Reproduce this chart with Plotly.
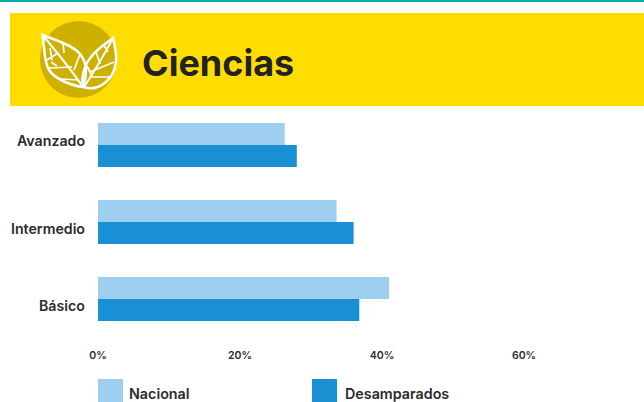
import plotly.graph_objects as go

categories = ["Básico", "Intermedio", "Avanzado"]
nacional = [41.0, 33.6, 26.3]
desamparados = [36.8, 36.0, 28.0]
x_ticks = [0, 20, 40, 60]
x_labels = ["0%", "20%", "40%", "60%"]
series_names = ["Nacional", "Desamparados"]
chart_title = "Ciencias"

W, H = 644, 402
FONT = "Inter"
DARK = "#2b2b2b"
LIGHT_BLUE = "#9fcff0"
BLUE = "#1990d3"

fig = go.Figure()
fig.add_bar(y=categories, x=desamparados, orientation="h", name=series_names[1],
            marker=dict(color=BLUE, line=dict(width=0)))
fig.add_bar(y=categories, x=nacional, orientation="h", name=series_names[0],
            marker=dict(color=LIGHT_BLUE, line=dict(width=0)))
fig.add_scatter(x=[0], y=[0], xaxis="x2", yaxis="y2", mode="markers", marker=dict(opacity=0),
                hoverinfo="skip", showlegend=False)


def rect(x0, y0, x1, y1, color):
    return dict(type="rect", xref="x2", yref="y2", x0=x0, y0=y0, x1=x1, y1=y1,
                fillcolor=color, line=dict(width=0), layer="below")


def stroke(path, width=2.0):
    return dict(type="path", xref="x2", yref="y2", path=path, layer="above",
                line=dict(color="white", width=width), fillcolor="rgba(0,0,0,0)")


shapes = [
    rect(0, 0, 644, 2, "#0ba8a8"),
    rect(10, 13, 644, 106, "#ffdd00"),
    dict(type="circle", xref="x2", yref="y2", x0=40, y0=21, x1=117, y1=98,
         fillcolor="#cdb000", line=dict(width=0), layer="below"),
    # left leaf
    stroke("M42.5,35 C50,38 56,40 63,43 C70,46 76,49 80,54 C84,59 86,64 86,70 C86,76 85,81 83,87 "
           "C76,86 69,84 63,81 C57,78 52,75 49,70 C46,64 45,58 44.5,52 C44,46 43,40 42.5,35 Z", 2.6),
    stroke("M42.5,35 C55,50 70,68 83,87", 2),
    stroke("M63,43 L64,53 M80,54 L74,70 M47,60 L58,53 M49,68 L72,67 M60,79 L79,80 "
           "M50,48 L52,60 M51,62 L57,66", 1.7),
    # right leaf
    stroke("M113,38 C105,44 97,49 91,57 C86,63 84,69 83,75 C82,80 82,84 84,87 "
           "C92,90 100,87 106,82 C112,77 115,70 116,62 C117,54 115,46 113,38 Z", 2.6),
    stroke("M113,38 C104,55 94,72 84,87", 2),
    stroke("M96,52 L100,64 M104,45 L108,52 M90,72 L114,62 M89,77 L110,77 M87,66 L92,76", 1.7),
    # legend swatches
    rect(98, 379, 123, 402, LIGHT_BLUE),
    rect(312, 379, 337, 402, BLUE),
]

annotations = [
    dict(text=chart_title, x=140, y=63, xref="x2", yref="y2", xanchor="left", yanchor="middle",
         showarrow=False, font=dict(family=FONT, size=36, weight=700, color="#222222")),
    dict(text=series_names[0], x=127, y=393, xref="x2", yref="y2", xanchor="left", yanchor="middle",
         showarrow=False, font=dict(family=FONT, size=14.3, weight=600, color=DARK)),
    dict(text=series_names[1], x=343, y=393, xref="x2", yref="y2", xanchor="left", yanchor="middle",
         showarrow=False, font=dict(family=FONT, size=14.3, weight=600, color=DARK)),
]
for c, dy in zip(categories, [-6, -6, 5]):
    annotations.append(dict(text=c, x=87, y=c, xref="x2", yref="y", xanchor="right", yanchor="middle", yshift=dy,
                            showarrow=False, font=dict(family=FONT, size=14.2, weight=600, color=DARK)))

fig.update_layout(
    width=W, height=H, margin=dict(l=0, r=0, t=0, b=0),
    paper_bgcolor="white", plot_bgcolor="rgba(0,0,0,0)",
    barmode="group", bargap=0.4286, bargroupgap=0,
    showlegend=False,
    font=dict(family=FONT, color=DARK),
    xaxis=dict(domain=[98 / W, 1], range=[0, 76.9], tickvals=x_ticks, ticktext=x_labels,
               showgrid=False, zeroline=False, showline=False, ticks="outside", ticklen=8,
               tickcolor="rgba(0,0,0,0)",
               tickfont=dict(family=FONT, size=10.5, weight=600, color=DARK), anchor="y", automargin=False),
    yaxis=dict(domain=[(H - 337.5) / H, (H - 106.5) / H], categoryorder="array", categoryarray=categories,
               showticklabels=False, showgrid=False, zeroline=False, showline=False, ticks="", automargin=False),
    xaxis2=dict(domain=[0, 1], range=[0, W], visible=False, anchor="y2", fixedrange=True),
    yaxis2=dict(domain=[0, 1], range=[H, 0], visible=False, anchor="x2", fixedrange=True),
    shapes=shapes, annotations=annotations,
)

fig.write_html("out.html", post_script="document.body.style.margin='0';document.body.style.overflow='hidden';",
               config=dict(displayModeBar=False))
